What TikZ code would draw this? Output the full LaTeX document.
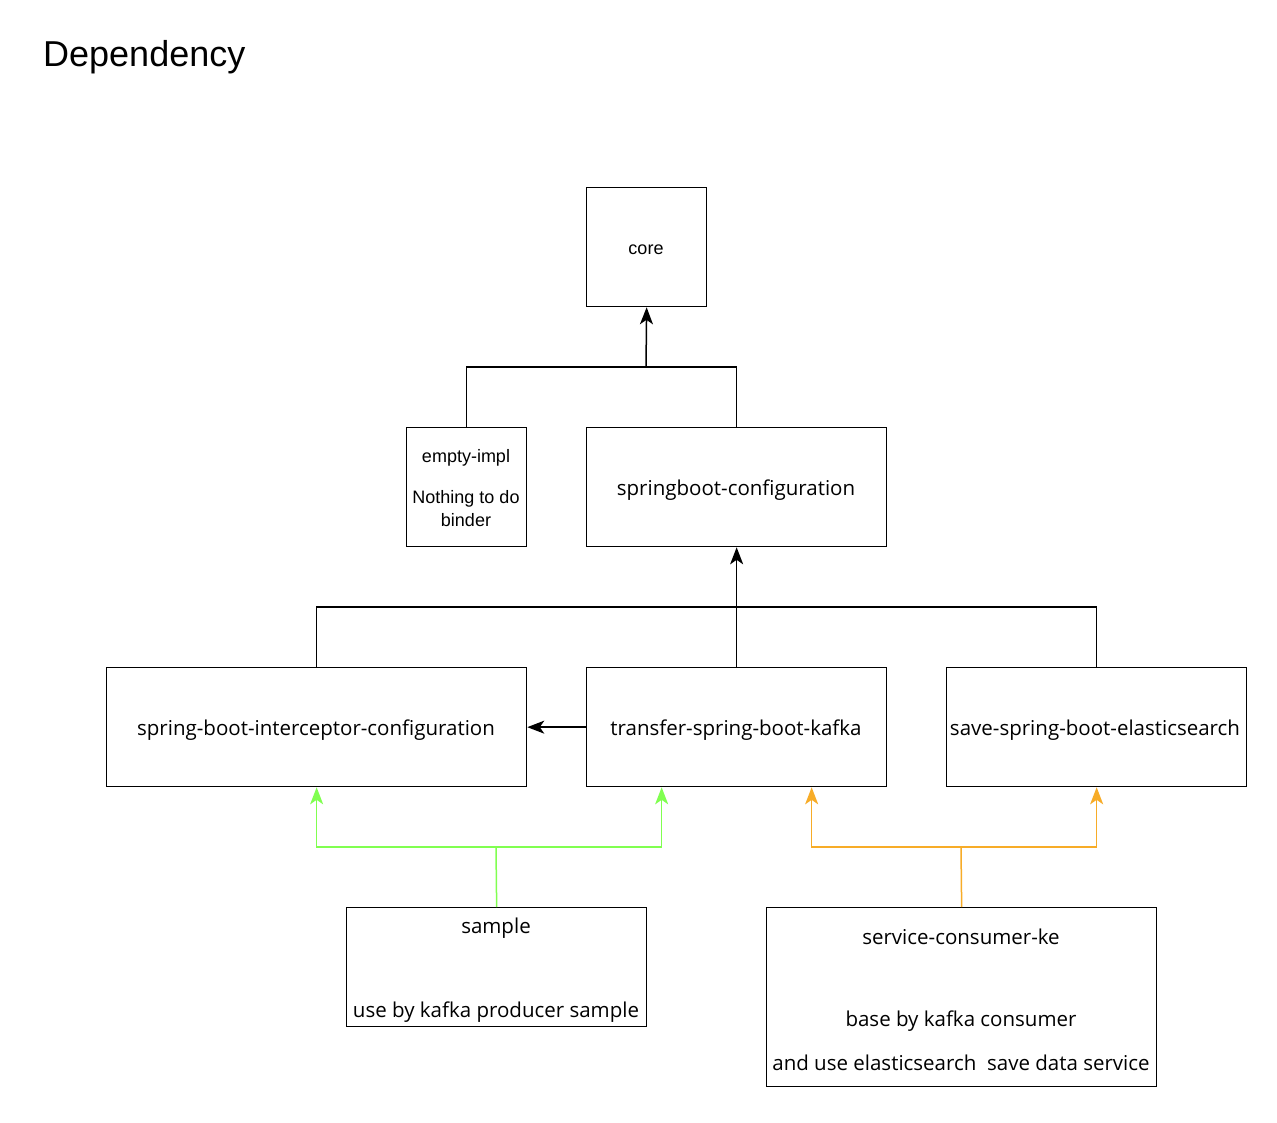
\documentclass[tikz,border=0pt]{standalone}
\usepackage{fontspec}
\setmainfont{Liberation Sans}
\newfontfamily\segoe{Open Sans}
\usetikzlibrary{arrows.meta}
\definecolor{lgreen}{RGB}{128,255,80}
\definecolor{lorange}{RGB}{247,172,40}
\begin{document}
\begin{tikzpicture}[x=1pt,y=-1pt,
  box/.style={draw,line width=1.3pt,inner sep=0pt,anchor=north west},
  link/.style={line width=1.5pt},
  arr/.style={link,-{Stealth[length=17pt,width=13pt,inset=4.5pt]}},
  seg/.style={font=\segoe\fontsize{20.5}{24}\selectfont,inner sep=0pt,yshift=-2pt},
  ari/.style={font=\fontsize{18}{21}\selectfont,inner sep=0pt,yshift=-2pt}]
\useasboundingbox[fill=white] (0,0) rectangle (1277,1122);
\node[anchor=base west,inner sep=0pt,font=\fontsize{36}{40}\selectfont] (title) at (43,66) {Dependency};
% boxes
\node[box,minimum width=120pt,minimum height=119pt] (core) at (586,187) {};
\node[ari] (coret) at (646,248) {core};
\node[box,minimum width=120pt,minimum height=119pt] (empty) at (406,427) {};
\node[ari] (emptyt1) at (466,456) {empty-impl};
\node[ari] (emptyt2) at (466,497) {Nothing to do};
\node[ari] (emptyt3) at (466,518) {binder};
\node[box,minimum width=300pt,minimum height=119pt] (sbc) at (586,427) {};
\node[seg] (sbct) at (736,488) {springboot-configuration};
\node[box,minimum width=420pt,minimum height=119pt] (inter) at (106,667) {};
\node[seg] (intert) at (316,728) {spring-boot-interceptor-configuration};
\node[box,minimum width=300pt,minimum height=119pt] (kafka) at (586,667) {};
\node[seg] (kafkat) at (736,728) {transfer-spring-boot-kafka};
\node[box,minimum width=300pt,minimum height=119pt] (es) at (946,667) {};
\node[seg] (est) at (1095,728) {save-spring-boot-elasticsearch};
\node[box,minimum width=300pt,minimum height=119pt] (sample) at (346,907) {};
\node[seg] (samplet1) at (496,926) {sample};
\node[seg] (samplet2) at (496,1010) {use by kafka producer sample};
\node[box,minimum width=390pt,minimum height=179pt] (scke) at (766,907) {};
\node[seg] (sckt1) at (961,935) {service-consumer-ke};
\node[seg] (sckt2) at (961,1019) {base by kafka consumer};
\node[seg] (sckt3) at (961,1061) {and use elasticsearch\ \ save data service};
% junctions
\coordinate (j1) at (646,367);
\coordinate (j2) at (736,607);
\coordinate (jg) at (496,847);
\coordinate (jo) at (961,847);
% black connectors
\draw[link] (empty.north) |- (j1);
\draw[link] (sbc.north) |- (j1);
\draw[arr] (j1) -- (core.south);
\draw[link] (inter.north) |- (j2);
\draw[link] (es.north) |- (j2);
\draw[arr] (kafka.north) -- (sbc.south);
\draw[arr] (kafka.west) -- (inter.east);
% green
\draw[link,lgreen] (sample.north) -- (jg);
\draw[arr,lgreen] (jg) -| (inter.south);
\draw[arr,lgreen] (jg) -| ([xshift=-75pt]kafka.south);
% orange
\draw[link,lorange] (scke.north) -- (jo);
\draw[arr,lorange] (jo) -| ([xshift=75pt]kafka.south);
\draw[arr,lorange] (jo) -| (es.south);
\end{tikzpicture}
\end{document}
